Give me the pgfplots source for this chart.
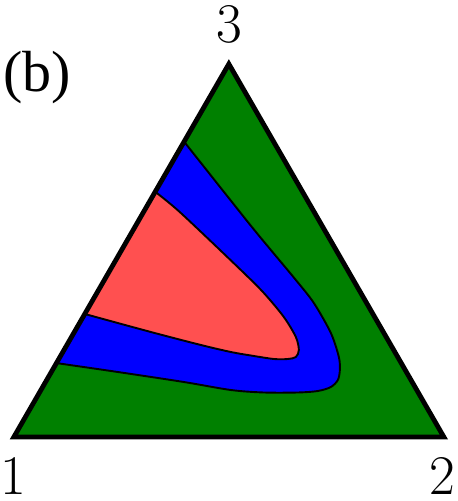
\documentclass[border=0pt]{standalone}
\usepackage{pgfplots}
\pgfplotsset{compat=1.18}
\usepackage{fontspec}
\newfontfamily\tms{Liberation Serif}
\definecolor{tgreen}{RGB}{0,128,0}
\definecolor{tblue}{RGB}{0,0,255}
\definecolor{tred}{RGB}{255,80,80}
\begin{document}
\begin{tikzpicture}
\begin{axis}[x=1pt, y=1pt, xmin=0, xmax=457, ymin=0, ymax=501,
  hide axis, clip=false, anchor=origin]
\path (axis cs:0,0) rectangle (axis cs:457,501);
% green triangle
\addplot[fill=tgreen, draw=none] coordinates {(13,64) (443,64) (228,437)} -- cycle;
% blue region
\addplot[fill=tblue, draw=black, line width=1.9pt, smooth, tension=0.5] coordinates {
(183.5,359) (247,279) (270,251) (295,221) (313,198) (330,168) (338,144) (339,131)
(337,121) (330,114) (317,110) (297,108.5) (263,108.5) (230,111) (183,119) (117,129) (55,138)
} -- cycle;
% red region
\addplot[fill=tred, draw=black, line width=1.9pt, smooth, tension=0.5] coordinates {
(154.6,309) (180,288) (240,231) (263,208) (283,184) (295,164) (298,151) (295,144)
(287,142) (273,142) (250,145.5) (230,149) (200,156) (150,169) (84,187)
} -- cycle;
% triangle outline
\addplot[draw=black, line width=4.8pt, line join=miter, fill=none] coordinates {(13,64) (443,64) (228,437)} -- cycle;
\node[anchor=base, inner sep=0pt, font=\fontsize{56}{60}\selectfont] at (axis cs:228,458) {3};
\node[anchor=base, inner sep=0pt, font=\fontsize{56}{60}\selectfont] at (axis cs:12,6) {1};
\node[anchor=base, inner sep=0pt, font=\fontsize{56}{60}\selectfont] at (axis cs:441,6) {2};
\node[anchor=base west, inner sep=0pt, font=\tms\fontsize{58}{62}\selectfont] at (axis cs:2,409) {(b)};
\end{axis}
\end{tikzpicture}
\end{document}
